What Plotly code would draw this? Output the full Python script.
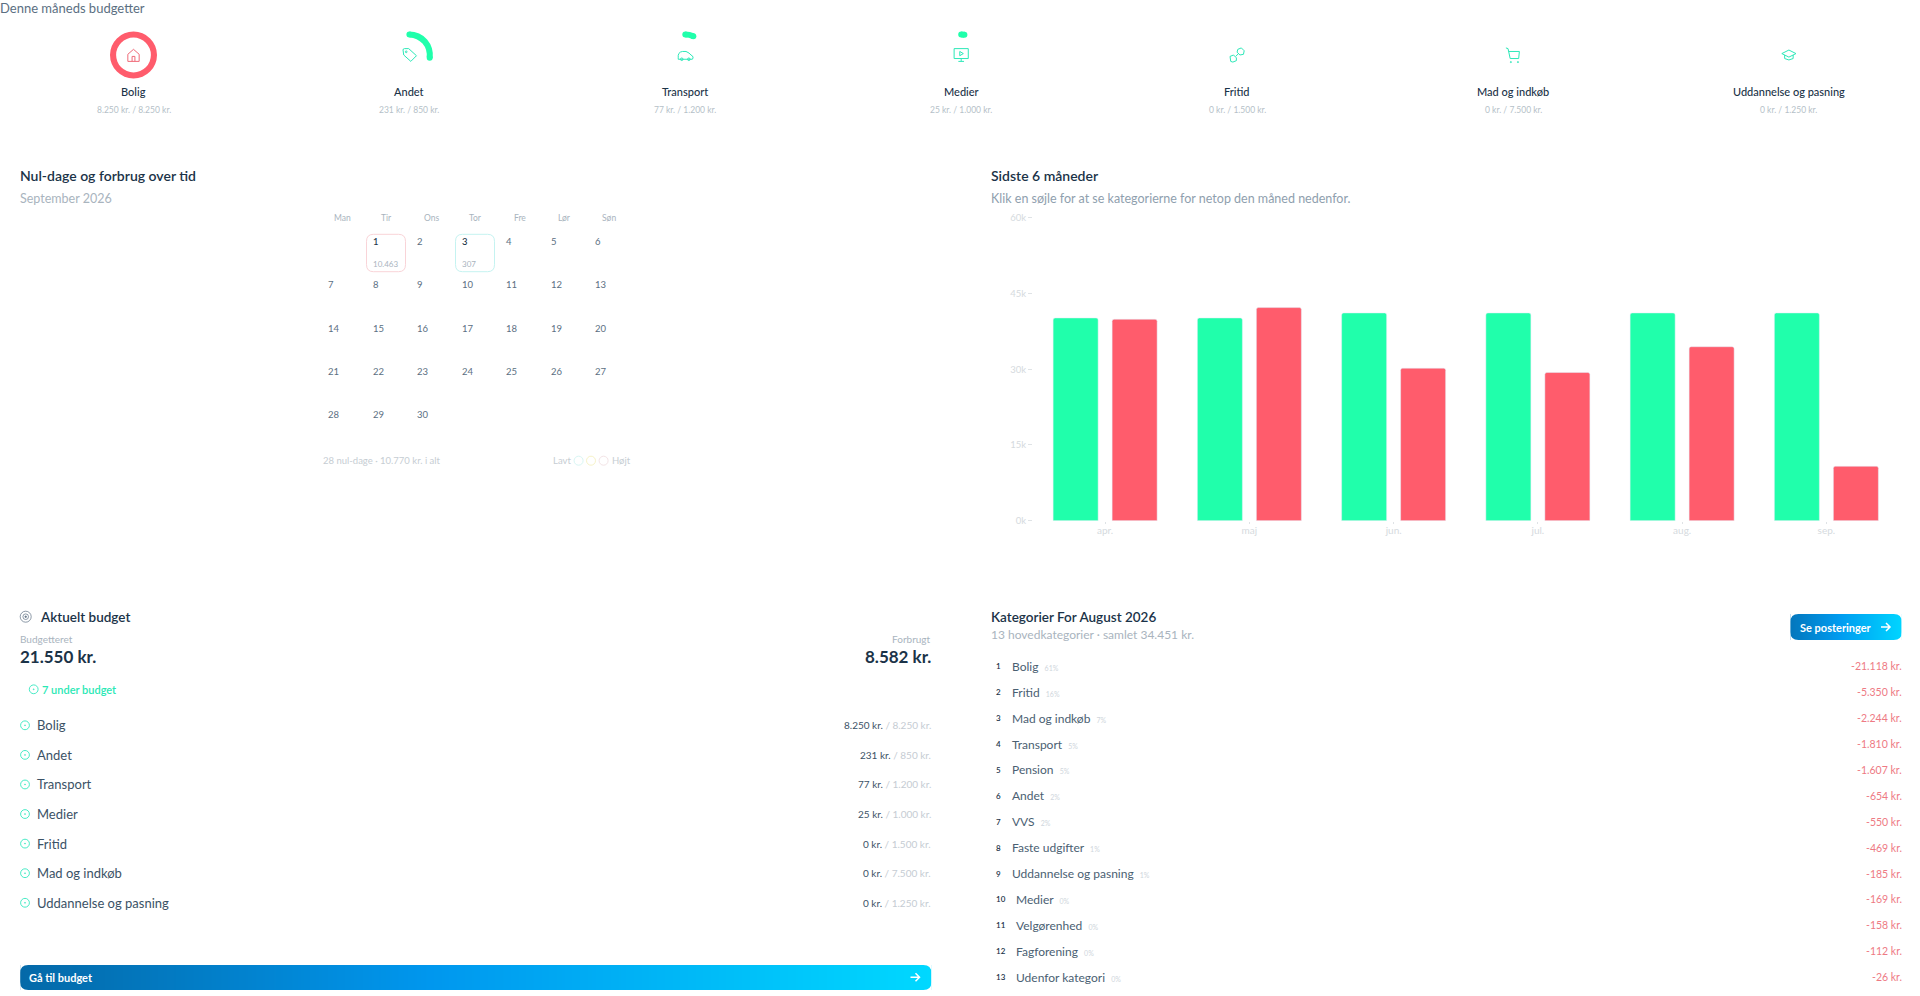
import re
import math
import numpy as np
import plotly.graph_objects as go

FONT = "Lato"
NAVY = "#1b3348"
SLATE = "#5b6f82"
GREY = "#a9b4be"
FAINT = "#c6cdd3"
GREEN = "#20ffab"
RED = "#ff5c6c"
CHECK = "#35e8c0"

# --- data ---
budget_names = ["Bolig", "Andet", "Transport", "Medier", "Fritid", "Mad og indkøb", "Uddannelse og pasning"]
budget_spent = [8250, 231, 77, 25, 0, 0, 0]
budget_limit = [8250, 850, 1200, 1000, 1500, 7500, 1250]
budget_icons = ["house", "tag", "car", "monitor", "ticket", "cart", "grad"]

months = ["apr.", "maj", "jun.", "jul.", "aug.", "sep."]
budget_series = [40150, 40150, 41140, 41140, 41140, 41140]
spend_series = [39890, 42200, 30200, 29340, 34451, 10770]
y_ticks = [0, 15000, 30000, 45000, 60000]
y_labels = ["0k", "15k", "30k", "45k", "60k"]

weekdays = ["Man", "Tir", "Ons", "Tor", "Fre", "Lør", "Søn"]
days_in_month = 30
first_weekday = 1
day_spend = {1: "10.463", 3: "307"}

cat_names = ["Bolig", "Fritid", "Mad og indkøb", "Transport", "Pension", "Andet", "VVS", "Faste udgifter",
             "Uddannelse og pasning", "Medier", "Velgørenhed", "Fagforening", "Udenfor kategori"]
cat_amounts = [21118, 5350, 2244, 1810, 1607, 654, 550, 469, 185, 169, 158, 112, 26]
cat_total = 34451


def kr(v):
    return f"{v:,}".replace(",", ".")


W, H = 1920, 996
annotations, shapes = [], []


def txt(x, y, text, size=11, color=NAVY, anchor="left", weight=400):
    annotations.append(dict(x=x, y=y, xref="x2", yref="y2", text=text, showarrow=False, xanchor=anchor,
                            yanchor="middle", borderpad=0, borderwidth=0,
                            font=dict(family=FONT, size=size, color=color, weight=weight)))


def stroke_path(path, color, width=1.0, fill="rgba(0,0,0,0)"):
    shapes.append(dict(type="path", path=path, xref="x2", yref="y2", layer="above",
                       line=dict(color=color, width=width), fillcolor=fill))


def circle(cx, cy, r, color, width=1.0, fill="rgba(0,0,0,0)"):
    shapes.append(dict(type="circle", x0=cx - r, x1=cx + r, y0=cy - r, y1=cy + r, xref="x2", yref="y2",
                       layer="above", line=dict(color=color, width=width), fillcolor=fill))


def round_rect(x0, y0, x1, y1, r, color, width=1.0):
    p = (f"M{x0+r} {y0} L{x1-r} {y0} Q{x1} {y0} {x1} {y0+r} L{x1} {y1-r} Q{x1} {y1} {x1-r} {y1} "
         f"L{x0+r} {y1} Q{x0} {y1} {x0} {y1-r} L{x0} {y0+r} Q{x0} {y0} {x0+r} {y0} Z")
    stroke_path(p, color, width)


ICONS = {
    "house": (["M4 11 L12 4 L20 11 L20 21 L4 21 Z", "M10 21 L10 14 L14 14 L14 21"], []),
    "tag": (["M3 5 Q3 3 5 3 L11 3 L22 13 L14 21 L4 12 Z"], [(7.5, 7.5, 1.2)]),
    "car": (["M2 16 Q1 8 8 7 L13 7 Q18 9 20 12 Q23 13 23 16 L22 18 L2 18 Z"], [(7, 18, 1.8), (17, 18, 1.8)]),
    "monitor": (["M2 3 L22 3 L22 17 L2 17 Z", "M12 17 L12 21", "M8 21 L16 21", "M10 7 L15 10 L10 13 Z"], []),
    "ticket": (["M13 4 L18 2 L22 6 L21 11 L16 12 L12 8 Z", "M2 14 L7 12 L11 16 L11 20 L6 22 L3 21 Z", "M10 14 L14 10"], []),
    "cart": (["M2 2 L5 3 L8 17 L20 17 L21 7 L6 7"], [(9, 22, 0.8), (19, 22, 0.8)]),
    "grad": (["M12 5 L22 10 L12 15 L2 10 Z", "M6 12 L6 17 Q12 21 18 17 L18 12"], []),
}


def icon(name, cx, cy, color, size=16):
    paths, circles = ICONS[name]
    s = size / 24
    def tr(m):
        return f"{cx + (float(m.group(1)) - 12) * s:.2f} {cy + (float(m.group(2)) - 12) * s:.2f}"
    for p in paths:
        stroke_path(re.sub(r"(-?[\d.]+) (-?[\d.]+)", tr, p), color, 1)
    for x, y, r in circles:
        circle(cx + (x - 12) * s, cy + (y - 12) * s, r * s, color, 1)


def check_icon(cx, cy):
    circle(cx, cy, 4.4, CHECK, 0.9)
    circle(cx, cy, 0.5, CHECK, 0.6, CHECK)


def arrow(cx, cy):
    stroke_path(f"M{cx-5} {cy} L{cx+4} {cy} M{cx} {cy-4} L{cx+4} {cy} L{cx} {cy+4}", "#ffffff", 1.5)


traces = []

# --- chart ---
traces.append(go.Bar(x=months, y=budget_series, marker=dict(color=GREEN, cornerradius=2), hoverinfo="skip",
                     showlegend=False, xaxis="x", yaxis="y"))
traces.append(go.Bar(x=months, y=spend_series, marker=dict(color=RED, cornerradius=2), hoverinfo="skip",
                     showlegend=False, xaxis="x", yaxis="y"))

# --- top gauges ---
txt(0, 7.5, "Denne måneds budgetter", 13, SLATE)
G_X0, G_STEP = 133.5, 275.9
G_CY, G_D = 55, 47
for i, (n, s, l, ic) in enumerate(zip(budget_names, budget_spent, budget_limit, budget_icons)):
    cx = G_X0 + i * G_STEP
    col = RED if s >= l else GREEN
    traces.append(go.Pie(values=[s, max(l - s, 0)], hole=0.74, sort=False, direction="clockwise", rotation=0,
                         marker=dict(colors=[col, "rgba(0,0,0,0)"], line=dict(width=0)), textinfo="none",
                         hoverinfo="skip", showlegend=False,
                         domain=dict(x=[(cx - G_D / 2) / W, (cx + G_D / 2) / W],
                                     y=[1 - (G_CY + G_D / 2) / H, 1 - (G_CY - G_D / 2) / H])))
    if 0 < s < l:
        a = 2 * math.pi * s / l
        mid = G_D / 2 - 3
        circle(cx, G_CY - mid, 3, col, 0, col)
        circle(cx + mid * math.sin(a), G_CY - mid * math.cos(a), 3, col, 0, col)
    icon(ic, cx, G_CY, "#ef6a78" if s >= l else "#2ce8b8", 17)
    txt(cx, 91, n, 11, NAVY, "center", 500)
    txt(cx, 109.5, f"{kr(s)} kr. / {kr(l)} kr.", 8.5, "#b5bfc8", "center")

# --- calendar ---
txt(20, 175, "Nul-dage og forbrug over tid", 14, NAVY, weight=600)
txt(20, 198, "September 2026", 12.5, GREY)
CAL_X, CAL_DX = 328, 44.5
CAL_Y, CAL_DY = 241.7, 43.2
for i, w in enumerate(weekdays):
    txt(342 + i * CAL_DX, 218, w, 8.5, GREY, "center")
for d in range(1, days_in_month + 1):
    pos = d - 1 + first_weekday
    c, r = pos % 7, pos // 7
    x = CAL_X + c * CAL_DX
    y = CAL_Y + r * CAL_DY
    active = d in day_spend
    txt(x, y, str(d), 9.5, NAVY if active else SLATE, weight=500 if active else 400)
    if active:
        txt(x, y + 22.3, day_spend[d], 8, GREY)
        round_rect(x - 6, y - 7.4, x + 33, y + 30, 7, "#f9d4d8" if d == 1 else "#c5f3f1", 1)
txt(323, 460.7, "28 nul-dage · 10.770 kr. i alt", 9.5, FAINT)
txt(552.6, 460.7, "Lavt", 9.5, FAINT)
txt(611.6, 460.7, "Højt", 9.5, FAINT)
for cx, col in zip([578.6, 591, 603.6], ["#d8f6f4", "#f7f3c8", "#f3e4e6"]):
    circle(cx, 460.7, 4.5, col, 1)

# --- chart heading ---
txt(990.6, 175, "Sidste 6 måneder", 14, NAVY, weight=600)
txt(990.6, 198, "Klik en søjle for at se kategorierne for netop den måned nedenfor.", 12.5, "#8fa0ae")

# --- current budget ---
circle(25.7, 616.7, 5.5, SLATE, 0.7)
circle(25.7, 616.7, 2.8, SLATE, 0.7)
circle(25.7, 616.7, 0.8, SLATE, 0.7, SLATE)
txt(39.8, 616.7, "Aktuelt budget", 13.5, NAVY, weight=600)
txt(20.2, 639.3, "Budgetteret", 10, GREY)
txt(931.4, 639.3, "Forbrugt", 10, GREY, "right")
txt(20.2, 656.7, f"{kr(sum(budget_limit))} kr.", 17, NAVY, weight=700)
txt(931.4, 656.7, "8.582 kr.", 17, NAVY, "right", 700)
check_icon(33.7, 689.3)
txt(41.6, 689.3, "7 under budget", 11, "#2ae8b5", weight=600)
ROW_Y0, ROW_DY = 725.3, 29.58
for i, (n, s, l) in enumerate(zip(budget_names, budget_spent, budget_limit)):
    y = ROW_Y0 + i * ROW_DY
    check_icon(25, y)
    txt(37.4, y, n, 13, "#3b5266")
    txt(931.4, y, f"{kr(s)} kr. <span style='color:#c5ccd3'>/ {kr(l)} kr.</span>", 10, "#3b5266", "right")

# --- big button ---
def gradient(x0, x1, y0, y1, stops, r):
    n = int(x1 - x0)
    traces.append(go.Heatmap(x=np.linspace(x0, x1, n + 1), y=[y0, y1], z=[list(range(n))], colorscale=stops,
                             showscale=False, hoverinfo="skip", xaxis="x2", yaxis="y2"))
    for cx, cy, sx, sy in [(x0, y0, 1, 1), (x1, y0, -1, 1), (x0, y1, 1, -1), (x1, y1, -1, -1)]:
        shapes.append(dict(type="path", xref="x2", yref="y2", layer="above", fillcolor="#ffffff",
                           line=dict(width=0),
                           path=f"M{cx} {cy} L{cx+sx*r} {cy} Q{cx} {cy} {cx} {cy+sy*r} Z"))


gradient(20.2, 931.4, 965, 990, [[0, "#0469a8"], [0.45, "#0097ee"], [1, "#00d8ff"]], 8)
txt(29.4, 977.3, "Gå til budget", 11, "#ffffff", weight=700)
arrow(915.5, 977.3)

# --- categories ---
txt(990.6, 616.7, "Kategorier For August 2026", 13.5, NAVY, weight=600)
txt(990.6, 634.7, f"13 hovedkategorier · samlet {kr(cat_total)} kr.", 12, GREY)
gradient(1790.4, 1901.8, 614, 640, [[0, "#0476bc"], [0.45, "#009cf0"], [1, "#00d4ff"]], 8)
txt(1799.6, 627, "Se posteringer", 11, "#ffffff", weight=700)
arrow(1886, 627)
CAT_Y0, CAT_DY = 666.3, 25.9
for i, (n, a) in enumerate(zip(cat_names, cat_amounts)):
    y = CAT_Y0 + i * CAT_DY
    pct = round(a / cat_total * 100)
    txt(995.5, y, str(i + 1), 8, NAVY, weight=600)
    txt(1012 if i < 9 else 1015.5, y, f"{n}  <span style='font-size:7px;color:#cfd6dc'>{pct}%</span>", 12, "#4a6072")
    txt(1901.8, y, f"-{kr(a)} kr.", 10.5, "#ee7a84", "right")

fig = go.Figure(traces)
fig.update_layout(
    width=W, height=H, margin=dict(l=0, r=0, t=0, b=0, pad=0, autoexpand=False), autosize=False,
    paper_bgcolor="#ffffff", plot_bgcolor="rgba(0,0,0,0)", barmode="group", bargap=0.182, bargroupgap=0.237,
    annotations=annotations, shapes=shapes, showlegend=False,
    xaxis=dict(domain=[1033 / W, 1898.5 / W], anchor="y", ticks="outside", ticklen=2, tickwidth=1,
               ticklabelstandoff=-2, tickcolor="#dfe3e6", showgrid=False, zeroline=False, showline=False,
               fixedrange=True, tickfont=dict(family=FONT, size=10, color="#d5dade")),
    yaxis=dict(domain=[1 - 520.7 / H, 1 - 217.7 / H], anchor="x", range=[0, 60000], tickvals=y_ticks,
               ticktext=y_labels, ticks="outside", ticklen=4, tickwidth=1, tickcolor="#dfe3e6", showgrid=False,
               zeroline=False, showline=False, fixedrange=True, tickfont=dict(family=FONT, size=9.5, color="#d5dade")),
    xaxis2=dict(domain=[0, 1], range=[0, W], anchor="y2", visible=False, fixedrange=True),
    yaxis2=dict(domain=[0, 1], range=[H, 0], anchor="x2", visible=False, fixedrange=True),
)
fig.write_html("out.html", config=dict(displayModeBar=False, responsive=False),
               post_script="document.body.style.margin='0';document.body.style.overflow='hidden';")
